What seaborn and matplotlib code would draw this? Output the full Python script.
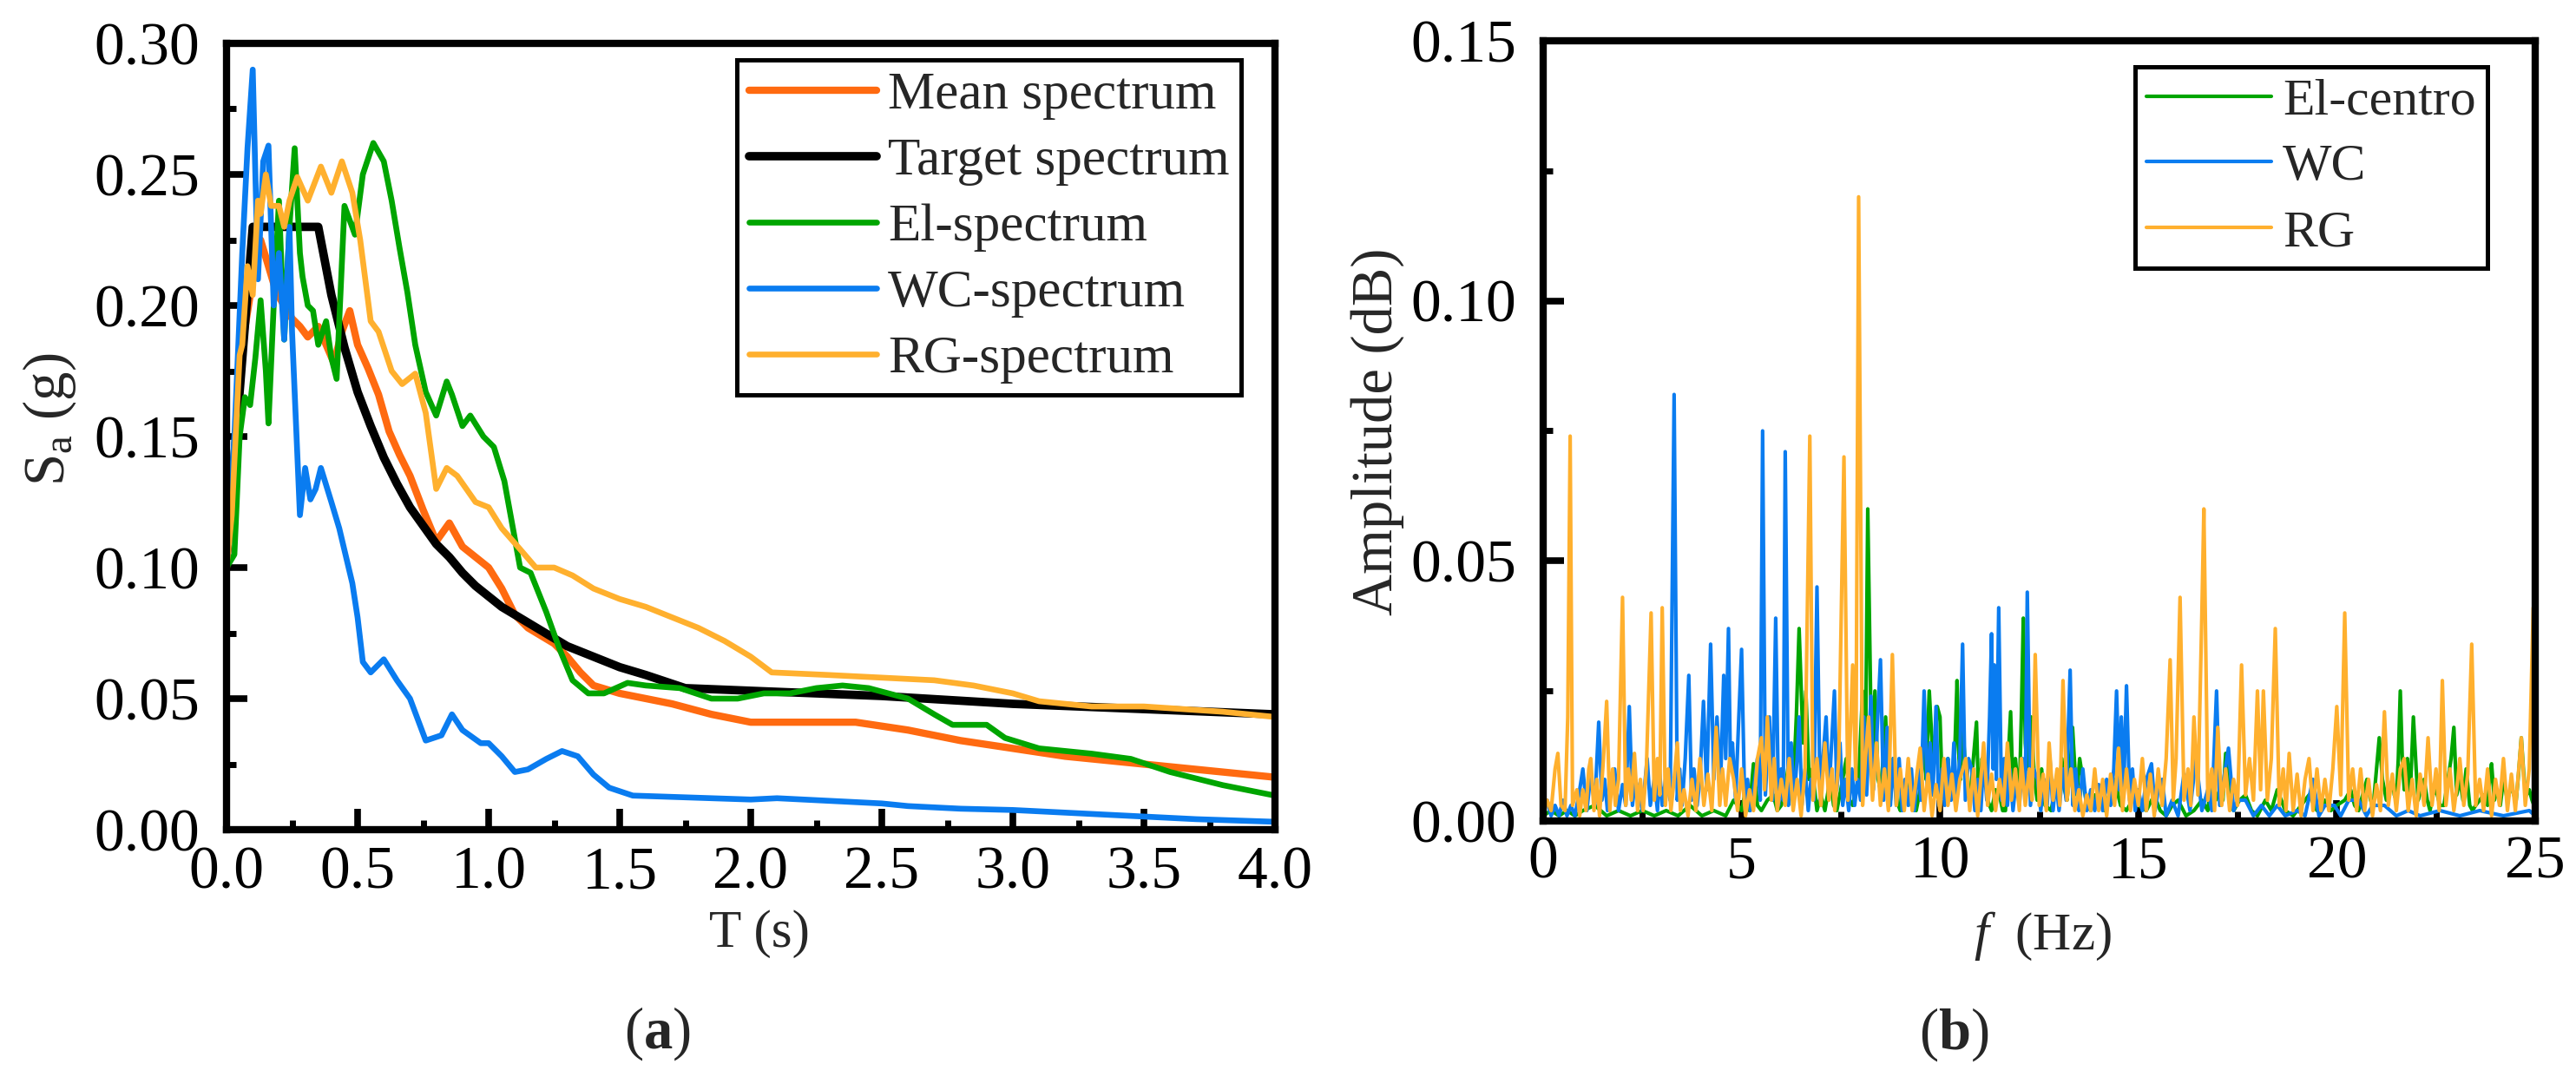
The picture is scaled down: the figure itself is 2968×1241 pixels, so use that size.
import matplotlib
matplotlib.use("Agg")
import pandas as pd
import seaborn as sns
import matplotlib.pyplot as plt
from matplotlib.ticker import MultipleLocator, FormatStrFormatter

# ---------------- (a) response spectra ----------------
target_T = [0.0, 0.1, 0.35, 0.4, 0.45, 0.5, 0.55, 0.6, 0.65, 0.7,
            0.75, 0.8, 0.85, 0.9, 0.95, 1.0, 1.05, 1.1, 1.2, 1.3,
            1.4, 1.5, 1.6, 1.75, 2.0, 2.5, 3.0, 3.5, 4.0]
target_Sa = [0.104, 0.230, 0.230, 0.204, 0.184, 0.167, 0.154, 0.142, 0.132, 0.123,
             0.116, 0.109, 0.104, 0.098, 0.093, 0.089, 0.085, 0.082, 0.076, 0.070,
             0.066, 0.062, 0.059, 0.054, 0.053, 0.051, 0.048, 0.046, 0.044]

mean_T = [0.0, 0.03, 0.06, 0.1, 0.13, 0.16, 0.19, 0.22, 0.25, 0.28,
          0.31, 0.35, 0.38, 0.41, 0.44, 0.47, 0.5, 0.54, 0.58, 0.62,
          0.66, 0.7, 0.75, 0.8, 0.85, 0.9, 0.95, 1.0, 1.05, 1.1,
          1.15, 1.2, 1.25, 1.3, 1.35, 1.4, 1.5, 1.6, 1.7, 1.85,
          2.0, 2.2, 2.4, 2.6, 2.8, 3.0, 3.2, 3.4, 3.7, 4.0]
mean_Sa = [0.100, 0.140, 0.185, 0.210, 0.225, 0.215, 0.205, 0.200, 0.195, 0.192,
           0.188, 0.192, 0.185, 0.178, 0.190, 0.198, 0.185, 0.176, 0.166, 0.152,
           0.143, 0.135, 0.122, 0.110, 0.117, 0.108, 0.104, 0.100, 0.092, 0.082,
           0.077, 0.074, 0.071, 0.066, 0.060, 0.055, 0.052, 0.050, 0.048, 0.044,
           0.041, 0.041, 0.041, 0.038, 0.034, 0.031, 0.028, 0.026, 0.023, 0.020]

el_T = [0.0, 0.03, 0.05, 0.07, 0.09, 0.11, 0.13, 0.15, 0.16, 0.18,
        0.2, 0.22, 0.24, 0.26, 0.28, 0.29, 0.31, 0.33, 0.35, 0.38,
        0.4, 0.42, 0.45, 0.49, 0.52, 0.56, 0.6, 0.63, 0.66, 0.69,
        0.72, 0.76, 0.8, 0.84, 0.86, 0.9, 0.93, 0.98, 1.02, 1.06,
        1.12, 1.16, 1.22, 1.27, 1.32, 1.38, 1.44, 1.53, 1.6, 1.73,
        1.85, 1.95, 2.05, 2.15, 2.25, 2.35, 2.45, 2.6, 2.7, 2.77,
        2.9, 2.97, 3.1, 3.3, 3.45, 3.6, 3.8, 4.0]
el_Sa = [0.100, 0.105, 0.150, 0.165, 0.162, 0.180, 0.202, 0.175, 0.155, 0.200,
         0.240, 0.187, 0.230, 0.260, 0.220, 0.211, 0.200, 0.198, 0.185, 0.194,
         0.180, 0.172, 0.238, 0.227, 0.250, 0.262, 0.255, 0.240, 0.222, 0.205,
         0.185, 0.167, 0.158, 0.171, 0.166, 0.154, 0.158, 0.150, 0.146, 0.133,
         0.100, 0.098, 0.083, 0.069, 0.057, 0.052, 0.052, 0.056, 0.055, 0.054,
         0.050, 0.050, 0.052, 0.052, 0.054, 0.055, 0.054, 0.050, 0.044, 0.040,
         0.040, 0.035, 0.031, 0.029, 0.027, 0.022, 0.017, 0.013]

wc_T = [0.0, 0.03, 0.06, 0.08, 0.1, 0.12, 0.14, 0.16, 0.18, 0.2,
        0.22, 0.24, 0.25, 0.28, 0.3, 0.32, 0.34, 0.36, 0.4, 0.43,
        0.48, 0.5, 0.52, 0.55, 0.6, 0.65, 0.7, 0.76, 0.82, 0.86,
        0.9, 0.97, 1.0, 1.05, 1.1, 1.15, 1.22, 1.28, 1.34, 1.4,
        1.46, 1.55, 1.7, 1.85, 2.0, 2.1, 2.3, 2.5, 2.6, 2.8,
        3.0, 3.1, 3.3, 3.5, 3.7, 4.0]
wc_Sa = [0.100, 0.150, 0.220, 0.260, 0.290, 0.210, 0.255, 0.261, 0.200, 0.220,
         0.187, 0.230, 0.190, 0.120, 0.138, 0.126, 0.130, 0.138, 0.125, 0.115,
         0.094, 0.081, 0.064, 0.060, 0.065, 0.057, 0.050, 0.034, 0.036, 0.044,
         0.038, 0.033, 0.033, 0.028, 0.022, 0.023, 0.027, 0.030, 0.028, 0.021,
         0.016, 0.013, 0.0125, 0.012, 0.0115, 0.012, 0.011, 0.010, 0.009, 0.008,
         0.0075, 0.007, 0.006, 0.005, 0.004, 0.003]

rg_T = [0.0, 0.02, 0.05, 0.06, 0.08, 0.1, 0.12, 0.13, 0.15, 0.17,
        0.2, 0.22, 0.24, 0.27, 0.31, 0.36, 0.4, 0.44, 0.48, 0.51,
        0.55, 0.58, 0.63, 0.67, 0.72, 0.76, 0.8, 0.84, 0.88, 0.95,
        1.0, 1.05, 1.12, 1.18, 1.25, 1.32, 1.4, 1.5, 1.6, 1.7,
        1.8, 1.9, 2.0, 2.08, 2.3, 2.5, 2.7, 2.85, 3.0, 3.1,
        3.3, 3.5, 3.8, 4.0]
rg_Sa = [0.100, 0.120, 0.181, 0.185, 0.215, 0.204, 0.240, 0.235, 0.250, 0.238,
         0.238, 0.230, 0.240, 0.249, 0.240, 0.253, 0.243, 0.255, 0.243, 0.225,
         0.194, 0.190, 0.175, 0.170, 0.174, 0.159, 0.130, 0.138, 0.135, 0.125,
         0.123, 0.115, 0.107, 0.100, 0.100, 0.097, 0.092, 0.088, 0.085, 0.081,
         0.077, 0.072, 0.066, 0.060, 0.059, 0.058, 0.057, 0.055, 0.052, 0.049,
         0.047, 0.047, 0.045, 0.043]

# ---------------- (b) Fourier amplitude ----------------
elc_f = [0.0, 0.2, 0.4, 0.6, 0.8, 1.0, 1.3, 1.6, 1.9, 2.2,
         2.5, 2.8, 3.1, 3.4, 3.7, 4.0, 4.3, 4.6, 4.8, 5.0,
         5.1, 5.2, 5.3, 5.4, 5.5, 5.65, 5.8, 5.9, 6.0, 6.1,
         6.2, 6.3, 6.38, 6.45, 6.55, 6.62, 6.7, 6.78, 6.9, 7.0,
         7.1, 7.23, 7.32, 7.4, 7.5, 7.64, 7.72, 7.8, 7.88, 7.95,
         8.05, 8.12, 8.18, 8.28, 8.36, 8.44, 8.5, 8.57, 8.63, 8.7,
         8.75, 8.82, 8.87, 8.95, 9.0, 9.1, 9.18, 9.28, 9.4, 9.5,
         9.6, 9.65, 9.73, 9.8, 9.85, 9.93, 10.0, 10.05, 10.1, 10.15,
         10.2, 10.26, 10.32, 10.38, 10.43, 10.48, 10.52, 10.56, 10.6, 10.68,
         10.75, 10.82, 10.92, 10.96, 11.0, 11.06, 11.13, 11.2, 11.3, 11.4,
         11.5, 11.58, 11.65, 11.72, 11.78, 11.84, 11.9, 11.95, 12.0, 12.05,
         12.1, 12.15, 12.2, 12.25, 12.3, 12.38, 12.45, 12.5, 12.56, 12.65,
         12.8, 12.9, 13.0, 13.07, 13.14, 13.2, 13.28, 13.34, 13.4, 13.45,
         13.52, 13.6, 13.7, 13.8, 13.9, 14.0, 14.15, 14.3, 14.4, 14.55,
         14.7, 14.85, 15.0, 15.2, 15.4, 15.55, 15.7, 15.85, 16.0, 16.2,
         16.4, 16.6, 16.75, 16.87, 16.95, 17.05, 17.13, 17.2, 17.3, 17.4,
         17.55, 17.7, 17.85, 18.0, 18.2, 18.35, 18.5, 18.7, 18.9, 19.1,
         19.3, 19.5, 19.7, 19.85, 20.0, 20.2, 20.35, 20.45, 20.55, 20.65,
         20.76, 20.85, 20.92, 21.0, 21.07, 21.15, 21.25, 21.32, 21.4, 21.45,
         21.5, 21.55, 21.6, 21.65, 21.7, 21.74, 21.78, 21.85, 21.93, 22.0,
         22.05, 22.12, 22.2, 22.28, 22.35, 22.42, 22.5, 22.6, 22.7, 22.8,
         22.88, 22.95, 23.02, 23.1, 23.18, 23.26, 23.35, 23.42, 23.5, 23.6,
         23.7, 23.8, 23.85, 23.9, 23.97, 24.04, 24.12, 24.2, 24.3, 24.4,
         24.46, 24.52, 24.58, 24.65, 24.72, 24.78, 24.85, 24.92, 24.97, 25.0]
elc_amp = [0.001, 0.002, 0.001, 0.002, 0.001, 0.002, 0.003, 0.001, 0.002, 0.001,
           0.002, 0.001, 0.002, 0.001, 0.003, 0.001, 0.002, 0.001, 0.004, 0.002,
           0.006, 0.002, 0.011, 0.003, 0.002, 0.004, 0.005, 0.002, 0.003, 0.006,
           0.012, 0.006, 0.020, 0.037, 0.015, 0.025, 0.008, 0.010, 0.002, 0.005,
           0.002, 0.008, 0.003, 0.002, 0.006, 0.012, 0.004, 0.003, 0.006, 0.008,
           0.025, 0.010, 0.060, 0.010, 0.025, 0.008, 0.006, 0.012, 0.020, 0.006,
           0.004, 0.012, 0.010, 0.003, 0.002, 0.006, 0.008, 0.003, 0.002, 0.006,
           0.015, 0.008, 0.025, 0.015, 0.012, 0.022, 0.020, 0.008, 0.006, 0.010,
           0.012, 0.006, 0.005, 0.015, 0.027, 0.012, 0.008, 0.020, 0.015, 0.006,
           0.004, 0.010, 0.019, 0.008, 0.005, 0.012, 0.010, 0.004, 0.002, 0.006,
           0.005, 0.002, 0.002, 0.012, 0.021, 0.006, 0.012, 0.008, 0.005, 0.020,
           0.039, 0.015, 0.010, 0.018, 0.020, 0.008, 0.004, 0.008, 0.010, 0.003,
           0.002, 0.006, 0.004, 0.012, 0.006, 0.004, 0.010, 0.018, 0.010, 0.005,
           0.012, 0.008, 0.003, 0.002, 0.005, 0.004, 0.002, 0.006, 0.008, 0.003,
           0.002, 0.004, 0.003, 0.002, 0.005, 0.002, 0.001, 0.003, 0.004, 0.001,
           0.002, 0.004, 0.002, 0.010, 0.004, 0.006, 0.004, 0.013, 0.004, 0.002,
           0.004, 0.005, 0.002, 0.001, 0.004, 0.002, 0.006, 0.002, 0.001, 0.003,
           0.005, 0.002, 0.004, 0.002, 0.003, 0.004, 0.006, 0.003, 0.002, 0.005,
           0.008, 0.004, 0.003, 0.010, 0.016, 0.008, 0.004, 0.006, 0.008, 0.005,
           0.004, 0.012, 0.025, 0.012, 0.006, 0.010, 0.012, 0.005, 0.020, 0.010,
           0.004, 0.006, 0.008, 0.004, 0.002, 0.005, 0.006, 0.003, 0.003, 0.008,
           0.012, 0.018, 0.005, 0.008, 0.004, 0.010, 0.003, 0.002, 0.003, 0.004,
           0.005, 0.003, 0.008, 0.011, 0.004, 0.006, 0.003, 0.008, 0.004, 0.007,
           0.005, 0.004, 0.009, 0.016, 0.008, 0.005, 0.006, 0.004, 0.003, 0.003]

wc_f = [0.0, 0.1, 0.2, 0.3, 0.4, 0.5, 0.6, 0.7, 0.8, 0.9,
        1.0, 1.1, 1.2, 1.3, 1.4, 1.48, 1.55, 1.62, 1.7, 1.8,
        1.9, 2.0, 2.08, 2.17, 2.25, 2.32, 2.4, 2.5, 2.62, 2.7,
        2.8, 2.88, 2.93, 3.0, 3.1, 3.2, 3.3, 3.38, 3.44, 3.5,
        3.58, 3.67, 3.74, 3.8, 3.88, 3.95, 4.04, 4.12, 4.22, 4.3,
        4.38, 4.47, 4.55, 4.6, 4.67, 4.72, 4.77, 4.85, 4.92, 5.0,
        5.08, 5.15, 5.22, 5.3, 5.4, 5.47, 5.53, 5.6, 5.7, 5.78,
        5.86, 5.93, 6.0, 6.05, 6.1, 6.18, 6.25, 6.32, 6.4, 6.45,
        6.52, 6.6, 6.68, 6.75, 6.82, 6.9, 6.98, 7.05, 7.13, 7.2,
        7.27, 7.34, 7.4, 7.48, 7.55, 7.62, 7.7, 7.78, 7.85, 7.92,
        8.0, 8.08, 8.15, 8.26, 8.32, 8.4, 8.5, 8.58, 8.67, 8.75,
        8.82, 8.9, 8.97, 9.05, 9.12, 9.2, 9.28, 9.35, 9.45, 9.52,
        9.6, 9.68, 9.75, 9.82, 9.9, 9.97, 10.05, 10.12, 10.2, 10.28,
        10.35, 10.42, 10.5, 10.57, 10.64, 10.72, 10.8, 10.88, 10.95, 11.03,
        11.1, 11.18, 11.25, 11.3, 11.34, 11.37, 11.42, 11.48, 11.55, 11.62,
        11.7, 11.76, 11.84, 11.92, 12.0, 12.08, 12.15, 12.2, 12.28, 12.36,
        12.46, 12.54, 12.62, 12.7, 12.77, 12.85, 12.92, 13.0, 13.1, 13.18,
        13.28, 13.35, 13.42, 13.5, 13.6, 13.7, 13.8, 13.9, 14.0, 14.1,
        14.2, 14.3, 14.38, 14.45, 14.52, 14.57, 14.63, 14.7, 14.78, 14.85,
        14.92, 15.0, 15.1, 15.2, 15.33, 15.42, 15.5, 15.6, 15.7, 15.85,
        16.0, 16.15, 16.3, 16.45, 16.6, 16.75, 16.85, 16.97, 17.05, 17.15,
        17.27, 17.4, 17.5, 17.7, 17.9, 18.1, 18.3, 18.5, 18.7, 19.0,
        19.2, 19.4, 19.55, 19.7, 19.94, 20.1, 20.3, 20.55, 20.75, 20.9,
        21.2, 21.5, 21.8, 22.1, 22.6, 23.1, 23.6, 24.2, 24.85, 25.0]
wc_amp = [0.002, 0.004, 0.001, 0.003, 0.001, 0.004, 0.001, 0.003, 0.001, 0.005,
          0.010, 0.002, 0.009, 0.003, 0.019, 0.004, 0.008, 0.002, 0.006, 0.010,
          0.002, 0.007, 0.003, 0.022, 0.003, 0.008, 0.006, 0.002, 0.012, 0.003,
          0.008, 0.002, 0.010, 0.003, 0.009, 0.004, 0.082, 0.004, 0.010, 0.003,
          0.012, 0.028, 0.004, 0.010, 0.003, 0.008, 0.023, 0.006, 0.034, 0.008,
          0.020, 0.007, 0.028, 0.012, 0.037, 0.010, 0.015, 0.004, 0.018, 0.033,
          0.003, 0.008, 0.002, 0.006, 0.012, 0.004, 0.075, 0.005, 0.020, 0.004,
          0.039, 0.003, 0.010, 0.004, 0.071, 0.003, 0.015, 0.004, 0.012, 0.020,
          0.003, 0.010, 0.002, 0.008, 0.004, 0.045, 0.004, 0.012, 0.020, 0.005,
          0.015, 0.025, 0.006, 0.015, 0.003, 0.008, 0.002, 0.010, 0.003, 0.008,
          0.004, 0.020, 0.005, 0.024, 0.006, 0.015, 0.031, 0.004, 0.018, 0.003,
          0.012, 0.003, 0.012, 0.002, 0.008, 0.003, 0.010, 0.002, 0.010, 0.004,
          0.025, 0.006, 0.015, 0.005, 0.022, 0.003, 0.010, 0.003, 0.012, 0.004,
          0.015, 0.004, 0.012, 0.034, 0.004, 0.012, 0.010, 0.002, 0.008, 0.002,
          0.012, 0.004, 0.020, 0.036, 0.010, 0.030, 0.008, 0.041, 0.004, 0.012,
          0.003, 0.010, 0.002, 0.008, 0.003, 0.012, 0.005, 0.044, 0.003, 0.010,
          0.008, 0.002, 0.008, 0.003, 0.012, 0.002, 0.008, 0.002, 0.010, 0.004,
          0.029, 0.003, 0.010, 0.002, 0.010, 0.002, 0.006, 0.002, 0.007, 0.002,
          0.008, 0.003, 0.010, 0.025, 0.006, 0.020, 0.006, 0.026, 0.004, 0.010,
          0.002, 0.006, 0.002, 0.008, 0.011, 0.002, 0.006, 0.008, 0.001, 0.004,
          0.001, 0.009, 0.002, 0.012, 0.002, 0.006, 0.002, 0.025, 0.003, 0.008,
          0.014, 0.002, 0.004, 0.004, 0.001, 0.003, 0.001, 0.003, 0.001, 0.002,
          0.001, 0.008, 0.001, 0.003, 0.003, 0.001, 0.004, 0.004, 0.001, 0.003,
          0.003, 0.001, 0.002, 0.001, 0.002, 0.001, 0.002, 0.001, 0.002, 0.001]

rg_f = [0.0, 0.1, 0.2, 0.3, 0.37, 0.45, 0.55, 0.62, 0.68, 0.74,
        0.85, 0.92, 1.0, 1.08, 1.15, 1.2, 1.28, 1.35, 1.42, 1.52,
        1.6, 1.68, 1.75, 1.82, 1.9, 2.0, 2.08, 2.15, 2.22, 2.3,
        2.38, 2.45, 2.52, 2.6, 2.72, 2.8, 2.88, 2.94, 3.0, 3.08,
        3.15, 3.22, 3.3, 3.38, 3.46, 3.55, 3.65, 3.75, 3.85, 3.95,
        4.05, 4.15, 4.25, 4.36, 4.45, 4.52, 4.6, 4.7, 4.8, 4.9,
        5.0, 5.1, 5.2, 5.3, 5.4, 5.5, 5.58, 5.65, 5.75, 5.82,
        5.9, 6.0, 6.1, 6.2, 6.3, 6.4, 6.5, 6.6, 6.72, 6.8,
        6.9, 7.0, 7.1, 7.2, 7.28, 7.35, 7.45, 7.58, 7.68, 7.8,
        7.88, 7.95, 8.05, 8.12, 8.2, 8.3, 8.4, 8.5, 8.6, 8.7,
        8.8, 8.9, 9.0, 9.1, 9.2, 9.3, 9.4, 9.5, 9.6, 9.7,
        9.8, 9.9, 10.0, 10.1, 10.2, 10.3, 10.4, 10.5, 10.65, 10.75,
        10.85, 10.95, 11.05, 11.1, 11.2, 11.3, 11.4, 11.5, 11.6, 11.7,
        11.8, 11.9, 12.0, 12.05, 12.15, 12.25, 12.32, 12.4, 12.5, 12.6,
        12.68, 12.75, 12.85, 12.95, 13.02, 13.1, 13.2, 13.3, 13.4, 13.5,
        13.6, 13.7, 13.8, 13.9, 14.0, 14.1, 14.2, 14.3, 14.4, 14.5,
        14.6, 14.7, 14.8, 14.9, 15.0, 15.1, 15.2, 15.3, 15.4, 15.5,
        15.6, 15.7, 15.8, 15.88, 15.95, 16.05, 16.15, 16.25, 16.32, 16.4,
        16.5, 16.6, 16.65, 16.75, 16.85, 16.92, 17.0, 17.1, 17.2, 17.3,
        17.4, 17.5, 17.6, 17.7, 17.8, 17.9, 18.0, 18.08, 18.15, 18.25,
        18.35, 18.45, 18.55, 18.65, 18.72, 18.8, 18.9, 19.0, 19.1, 19.2,
        19.3, 19.4, 19.5, 19.6, 19.7, 19.8, 19.9, 20.0, 20.1, 20.2,
        20.3, 20.4, 20.5, 20.6, 20.7, 20.8, 20.9, 21.0, 21.1, 21.2,
        21.3, 21.4, 21.5, 21.6, 21.7, 21.8, 21.9, 22.0, 22.1, 22.2,
        22.3, 22.4, 22.5, 22.58, 22.66, 22.75, 22.85, 22.95, 23.05, 23.1,
        23.2, 23.3, 23.4, 23.5, 23.6, 23.7, 23.8, 23.9, 24.0, 24.1,
        24.2, 24.3, 24.4, 24.5, 24.65, 24.75, 24.85, 24.95, 25.0]
rg_amp = [0.001, 0.004, 0.002, 0.010, 0.013, 0.003, 0.002, 0.020, 0.074, 0.003,
          0.006, 0.001, 0.006, 0.002, 0.010, 0.012, 0.002, 0.008, 0.001, 0.012,
          0.023, 0.002, 0.010, 0.003, 0.008, 0.043, 0.003, 0.010, 0.004, 0.013,
          0.002, 0.008, 0.002, 0.010, 0.040, 0.004, 0.012, 0.005, 0.041, 0.003,
          0.010, 0.002, 0.008, 0.015, 0.002, 0.006, 0.001, 0.008, 0.002, 0.012,
          0.003, 0.009, 0.002, 0.018, 0.003, 0.010, 0.003, 0.012, 0.008, 0.002,
          0.010, 0.001, 0.006, 0.002, 0.012, 0.016, 0.006, 0.020, 0.004, 0.012,
          0.002, 0.008, 0.003, 0.012, 0.002, 0.008, 0.001, 0.010, 0.074, 0.004,
          0.012, 0.003, 0.015, 0.004, 0.010, 0.002, 0.012, 0.070, 0.004, 0.030,
          0.008, 0.120, 0.003, 0.012, 0.020, 0.004, 0.015, 0.003, 0.010, 0.002,
          0.032, 0.003, 0.010, 0.002, 0.012, 0.002, 0.008, 0.014, 0.002, 0.009,
          0.001, 0.007, 0.002, 0.012, 0.003, 0.009, 0.002, 0.008, 0.012, 0.002,
          0.010, 0.001, 0.010, 0.015, 0.003, 0.009, 0.002, 0.008, 0.003, 0.015,
          0.004, 0.010, 0.002, 0.012, 0.003, 0.010, 0.004, 0.032, 0.003, 0.009,
          0.002, 0.015, 0.004, 0.010, 0.003, 0.027, 0.004, 0.010, 0.002, 0.006,
          0.001, 0.005, 0.002, 0.010, 0.002, 0.008, 0.001, 0.009, 0.003, 0.014,
          0.002, 0.010, 0.002, 0.008, 0.003, 0.012, 0.002, 0.009, 0.001, 0.010,
          0.003, 0.012, 0.031, 0.004, 0.012, 0.043, 0.004, 0.010, 0.003, 0.020,
          0.005, 0.040, 0.060, 0.004, 0.010, 0.002, 0.018, 0.003, 0.010, 0.002,
          0.008, 0.003, 0.030, 0.005, 0.012, 0.004, 0.025, 0.006, 0.025, 0.004,
          0.012, 0.037, 0.003, 0.010, 0.002, 0.013, 0.002, 0.009, 0.001, 0.008,
          0.012, 0.002, 0.010, 0.002, 0.008, 0.002, 0.010, 0.022, 0.005, 0.040,
          0.004, 0.010, 0.002, 0.010, 0.002, 0.008, 0.001, 0.007, 0.002, 0.021,
          0.003, 0.009, 0.002, 0.010, 0.012, 0.002, 0.008, 0.001, 0.009, 0.003,
          0.016, 0.003, 0.010, 0.002, 0.027, 0.003, 0.010, 0.002, 0.008, 0.012,
          0.003, 0.009, 0.034, 0.003, 0.008, 0.002, 0.010, 0.001, 0.008, 0.003,
          0.012, 0.002, 0.009, 0.002, 0.016, 0.003, 0.010, 0.041, 0.004]

c_mean = "#FF6A10"
c_target = "#000000"
c_el = "#00A500"
c_wc = "#0A7CF0"
c_rg = "#FFB02E"

sns.set_theme(style="ticks")
plt.rcParams['font.family'] = ['Liberation Serif', 'DejaVu Serif']
plt.rcParams['mathtext.fontset'] = 'custom'
plt.rcParams['mathtext.rm'] = 'Liberation Serif'
plt.rcParams['mathtext.it'] = 'Liberation Serif:italic'
plt.rcParams['mathtext.bf'] = 'Liberation Serif:bold'
plt.rcParams.update({
    'xtick.direction': 'in', 'ytick.direction': 'in',
    'xtick.bottom': True, 'ytick.left': True,
    'xtick.top': False, 'ytick.right': False,
    'xtick.major.size': 17, 'ytick.major.size': 17,
    'xtick.major.width': 5.5, 'ytick.major.width': 5.5,
    'xtick.minor.size': 8, 'ytick.minor.size': 8,
    'xtick.minor.width': 5, 'ytick.minor.width': 5,
    'xtick.color': 'black', 'ytick.color': 'black',
    'axes.edgecolor': 'black', 'axes.linewidth': 6,
})

W, H = 2968, 1241
fig = plt.figure(figsize=(W / 100, H / 100), dpi=100)
ax1 = fig.add_axes([261 / W, 1 - 956 / H, 1208 / W, 906 / H])
ax2 = fig.add_axes([1778 / W, 1 - 946 / H, 1143 / W, 899 / H])

series_a = [
    ("Mean spectrum", mean_T, mean_Sa, c_mean, 6.0),
    ("Target spectrum", target_T, target_Sa, c_target, 7.0),
    ("El-spectrum", el_T, el_Sa, c_el, 4.8),
    ("WC-spectrum", wc_T, wc_Sa, c_wc, 4.8),
    ("RG-spectrum", rg_T, rg_Sa, c_rg, 4.8),
]
for name, xs, ys, col, lw in series_a:
    df = pd.DataFrame({"T": xs, "Sa": ys})
    sns.lineplot(data=df, x="T", y="Sa", ax=ax1, color=col, lw=lw, label=name,
                 solid_capstyle="round", solid_joinstyle="round")

series_b = [
    ("El-centro", elc_f, elc_amp, c_el),
    ("WC", wc_f, wc_amp, c_wc),
    ("RG", rg_f, rg_amp, c_rg),
]
for name, xs, ys, col in series_b:
    df = pd.DataFrame({"f": xs, "amp": ys})
    sns.lineplot(data=df, x="f", y="amp", ax=ax2, color=col, lw=3.0, label=name,
                 solid_capstyle="round", solid_joinstyle="round")

ax1.set_xlim(0, 4.0)
ax1.set_ylim(0, 0.30)
ax1.xaxis.set_major_locator(MultipleLocator(0.5))
ax1.xaxis.set_minor_locator(MultipleLocator(0.25))
ax1.yaxis.set_major_locator(MultipleLocator(0.05))
ax1.yaxis.set_minor_locator(MultipleLocator(0.025))
ax1.xaxis.set_major_formatter(FormatStrFormatter("%.1f"))
ax1.yaxis.set_major_formatter(FormatStrFormatter("%.2f"))

ax2.set_xlim(0, 25)
ax2.set_ylim(0, 0.15)
ax2.xaxis.set_major_locator(MultipleLocator(5))
ax2.xaxis.set_minor_locator(MultipleLocator(2.5))
ax2.yaxis.set_major_locator(MultipleLocator(0.05))
ax2.yaxis.set_minor_locator(MultipleLocator(0.025))
ax2.xaxis.set_major_formatter(FormatStrFormatter("%.0f"))
ax2.yaxis.set_major_formatter(FormatStrFormatter("%.2f"))

for ax, xpad in [(ax1, 14), (ax2, 12)]:
    ax.set_xlabel("")
    ax.set_ylabel("")
    ax.set_facecolor("white")
    for sp in ax.spines.values():
        sp.set_visible(True)
        sp.set_linewidth(6)
        sp.set_color("black")
        sp.set_zorder(5)
    ax.tick_params(axis="both", which="both", direction="in", bottom=True, left=True,
                   top=False, right=False, color="black", labelcolor="black",
                   labelsize=50, zorder=6)
    ax.tick_params(axis="both", which="major", length=17, width=5.5)
    ax.tick_params(axis="both", which="minor", length=8, width=5)
    ax.tick_params(axis="y", which="both", pad=22)
    ax.tick_params(axis="x", which="both", pad=xpad)

leg1 = ax1.legend(loc="upper right", bbox_to_anchor=(0.968, 0.979), fontsize=44,
                  handlelength=2.42, handletextpad=0.21, labelspacing=0.33,
                  borderpad=0.22, borderaxespad=0.0, fancybox=False, framealpha=1)
leg1.get_frame().set_edgecolor("black")
leg1.get_frame().set_linewidth(3.6)

leg2 = ax2.legend(loc="upper right", bbox_to_anchor=(0.952, 0.967), fontsize=43,
                  handlelength=2.42, handletextpad=0.22, labelspacing=0.35,
                  borderpad=0.22, borderaxespad=0.0, fancybox=False, framealpha=1)
leg2.get_frame().set_edgecolor("black")
leg2.get_frame().set_linewidth(3.6)

fig.text(57 / W, 1 - 483 / H, r"S$_\mathregular{a}$ (g)", rotation=90,
         ha="center", va="center", fontsize=48)
fig.text(875 / W, 1 - 1076 / H, "T (s)", ha="center", va="center", fontsize=44)
fig.text(1587 / W, 1 - 497 / H, "Amplitude (dB)", rotation=90,
         ha="center", va="center", fontsize=48)
fig.text(2353 / W, 1 - 1079 / H, r"$f$  (Hz)", ha="center", va="center", fontsize=44)
fig.text(757 / W, 1 - 1191 / H, r"($\mathbf{a}$)", ha="center", va="center", fontsize=48)
fig.text(2251 / W, 1 - 1192 / H, r"($\mathbf{b}$)", ha="center", va="center", fontsize=48)

fig.savefig("out.png", dpi=100, facecolor="white")
